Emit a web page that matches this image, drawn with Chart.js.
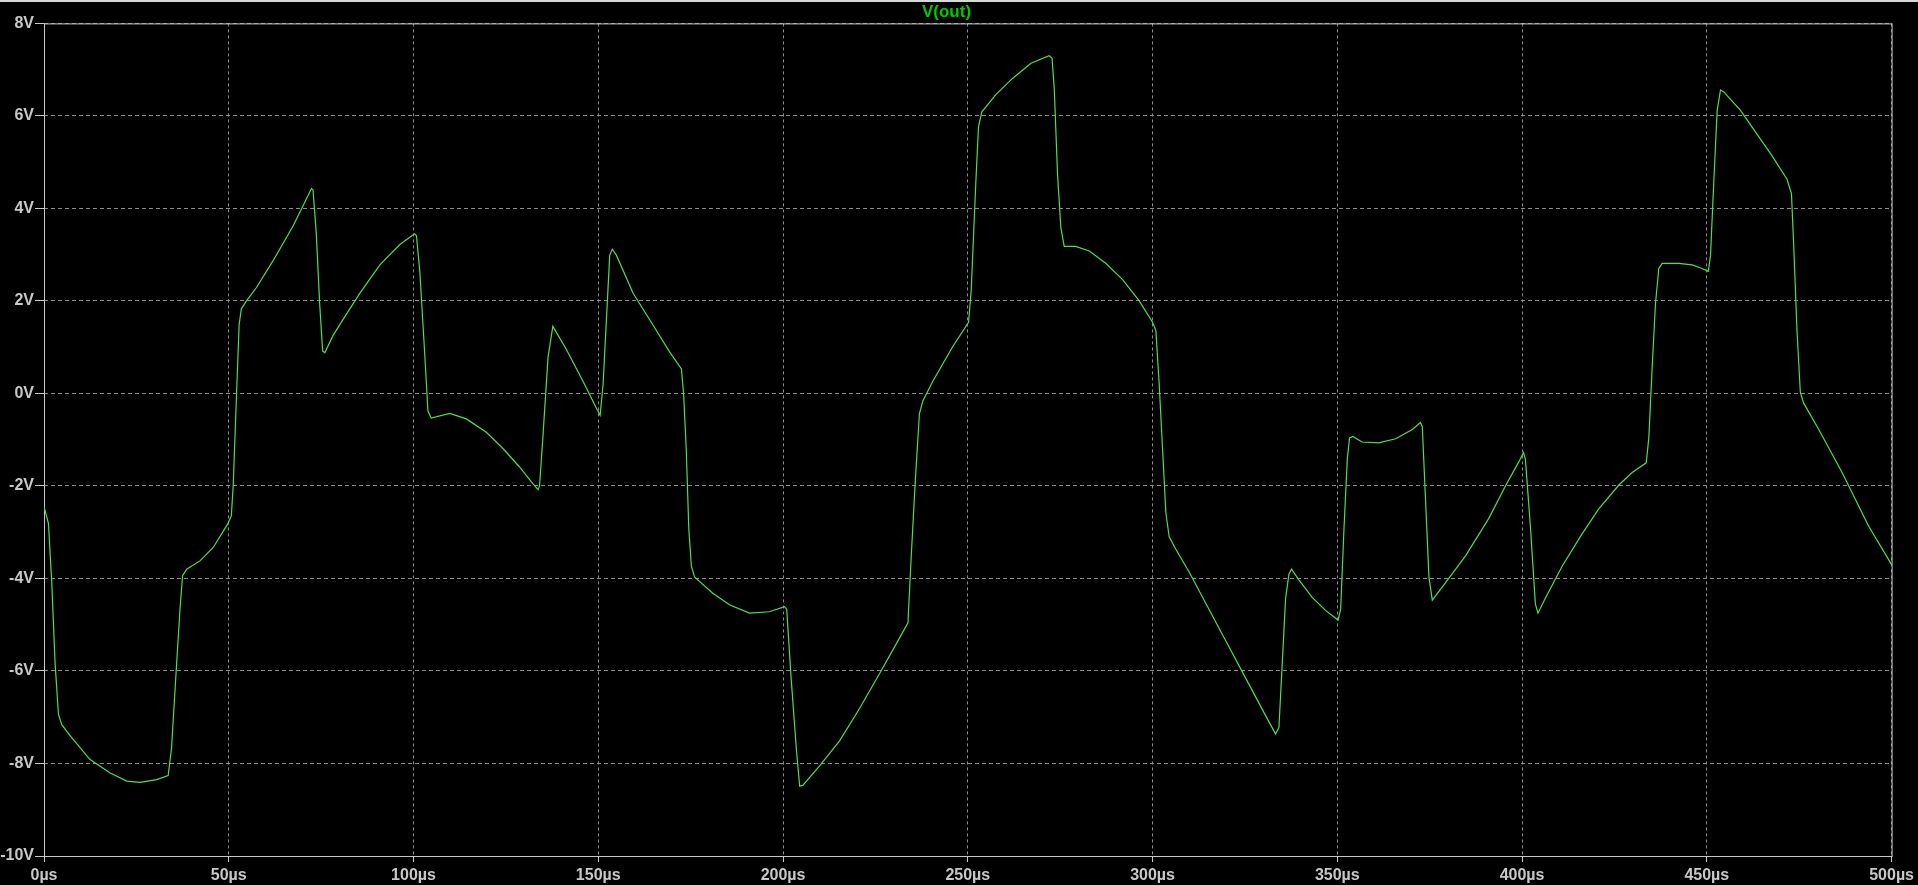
<!DOCTYPE html>
<html>
<head>
<meta charset="utf-8">
<title>V(out)</title>
<script src="https://cdn.jsdelivr.net/npm/chart.js@4/dist/chart.umd.min.js"></script>
<style>
    html, body { margin: 0; padding: 0; background: #000; overflow: hidden; }
    #wrap { position: relative; width: 1918px; height: 885px; }
    #topBar { position: absolute; left: 0; top: 0; width: 1918px; height: 2px; background: #d8d8d8; }
</style>
</head>
<body>
<div id="wrap">
    <canvas id="voutChart" width="1918" height="885"></canvas>
    <div id="topBar"></div>
</div>
<script>
// transient sim values (time in µs, voltage in V)
const timeUs = [
    0, 1.2, 2.1, 3.0, 3.9, 4.8, 7.0, 12.4, 17.8, 22.4, 26.0, 30.5, 33.6, 34.5, 35.9, 36.8, 37.5, 38.6,
    42.2, 45.8, 49.8, 50.7, 51.2, 52.1, 52.8, 53.4, 54.8, 57.5, 62.0, 67.4, 72.4, 72.8, 73.7, 74.6,
    75.4, 76.0, 78.2, 81.8, 85.5, 90.9, 96.3, 100.3, 100.8, 101.7, 103.0, 103.9, 104.8, 109.8, 114.3,
    119.7, 124.2, 128.7, 131.9, 133.7, 134.1, 135.0, 136.4, 137.7, 141.3, 145.9, 149.5, 150.5, 151.3,
    152.2, 153.1, 153.8, 154.9, 159.4, 164.8, 169.3, 172.5, 173.1, 173.8, 174.5, 175.2, 176.1, 181.0,
    185.5, 190.9, 196.3, 200.4, 201.0, 202.2, 203.6, 204.5, 205.4, 209.9, 215.3, 220.7, 226.1, 230.6,
    233.8, 234.7, 235.8, 236.9, 237.8, 240.5, 245.9, 250.2, 250.9, 251.5, 252.2, 252.9, 253.8, 257.6,
    262.1, 267.1, 272.0, 272.8, 273.4, 274.3, 275.2, 276.1, 279.2, 282.9, 287.4, 291.9, 296.4, 300.0,
    300.9, 301.8, 302.7, 303.6, 304.5, 306.3, 309.9, 315.3, 320.7, 326.1, 331.5, 333.3, 334.2, 335.1,
    336.0, 336.9, 337.6, 339.6, 343.2, 346.8, 350.2, 350.9, 351.8, 352.7, 353.3, 354.2, 356.7, 361.2,
    365.8, 370.3, 372.5, 373.0, 373.9, 374.8, 375.7, 379.3, 384.7, 391.0, 395.5, 399.1, 400.4, 400.9,
    402.3, 403.6, 404.3, 406.3, 410.8, 416.2, 420.7, 426.2, 429.8, 433.6, 434.3, 435.2, 436.1, 437.0,
    437.9, 442.4, 446.0, 448.7, 450.4, 451.0, 451.9, 452.8, 453.7, 454.6, 459.1, 463.2, 467.7, 471.7,
    472.9, 473.5, 474.4, 475.3, 476.2, 480.3, 486.6, 493.8, 500
];
const vOut = [
    -2.45, -2.81, -4.09, -5.83, -6.93, -7.16, -7.39, -7.91, -8.20, -8.38, -8.41, -8.35, -8.26, -7.68, -5.83, -4.67, -3.94, -3.80,
    -3.62, -3.33, -2.81, -2.64, -2.0, -0.03, 1.48, 1.83, 2.0, 2.29, 2.87, 3.62, 4.43, 4.40, 3.45, 1.94,
    0.92, 0.88, 1.25, 1.71, 2.17, 2.78, 3.22, 3.45, 3.41, 2.64, 0.90, -0.38, -0.53, -0.43, -0.55,
    -0.84, -1.19, -1.59, -1.91, -2.08, -2.0, -0.96, 0.78, 1.45, 0.96, 0.26, -0.32, -0.47, 0.20,
    1.59, 2.99, 3.12, 2.99, 2.17, 1.48, 0.90, 0.53, -0.03, -1.19, -2.93, -3.74, -3.97, -4.32,
    -4.57, -4.75, -4.72, -4.61, -4.67, -6.17, -7.68, -8.49, -8.47, -8.05, -7.51, -6.81, -6.06, -5.42,
    -4.96, -3.51, -1.88, -0.44, -0.17, 0.26, 1.01, 1.54, 2.2, 3.3, 4.61, 5.77, 6.09, 6.46,
    6.81, 7.14, 7.30, 7.25, 6.58, 4.72, 3.57, 3.18, 3.18, 3.08, 2.81, 2.46, 2.0, 1.54,
    1.36, 0.20, -1.19, -2.58, -3.10, -3.37, -3.86, -4.67, -5.48, -6.29, -7.10, -7.36, -7.22, -5.83,
    -4.43, -3.91, -3.80, -4.03, -4.41, -4.69, -4.90, -4.67, -2.93, -1.42, -0.96, -0.93, -1.05, -1.07,
    -0.98, -0.78, -0.63, -0.72, -2.35, -3.97, -4.47, -4.09, -3.51, -2.70, -2.0, -1.48, -1.28, -1.42,
    -2.93, -4.55, -4.75, -4.43, -3.74, -3.04, -2.5, -1.98, -1.71, -1.50, -0.96, 0.55, 1.94, 2.70,
    2.81, 2.81, 2.78, 2.70, 2.64, 2.99, 4.61, 6.12, 6.56, 6.52, 6.12, 5.65, 5.13, 4.63,
    4.32, 3.22, 1.36, 0.03, -0.21, -0.78, -1.71, -2.87, -3.70
];

// axis ranges and tick steps
const xRange = [0, 500];
const xStep = 50;
const yRange = [-10, 8];
const yStep = 2;

const traceName = 'V(out)';

const labelColor = '#c8c8c8';
const gridColor = '#8c8c8c';
const labelFont = { family: 'Liberation Sans, Arial, sans-serif', size: 16, weight: 'bold' };

// solid frame around the plot area, like the LTspice window
const frameBox = {
    id: 'frameBox',
    beforeDatasetsDraw(chart) {
        const { ctx, chartArea } = chart;
        ctx.save();
        ctx.strokeStyle = labelColor;
        ctx.lineWidth = 1;
        ctx.setLineDash([]);
        ctx.strokeRect(chartArea.left + 0.5, chartArea.top + 0.5,
            chartArea.right - chartArea.left, chartArea.bottom - chartArea.top);
        ctx.restore();
    }
};

document.addEventListener('DOMContentLoaded', function () {
    const ctx = document.getElementById('voutChart').getContext('2d');

    const points = timeUs.map((t, i) => ({ x: t, y: vOut[i] }));

    const voutChart = new Chart(ctx, {
        type: 'scatter',
        data: {
            datasets: [{
                label: traceName,
                data: points,
                showLine: true,
                borderColor: 'rgb(80, 222, 80)',
                borderWidth: 1.2,
                pointRadius: 0,
                tension: 0
            }]
        },
        options: {
            responsive: false,
            animation: false,
            layout: { padding: { left: 0, right: 25, top: 0, bottom: 0 } },
            plugins: {
                legend: { display: false },
                tooltip: { enabled: false },
                title: {
                    display: true,
                    text: traceName,
                    color: 'rgb(0, 200, 0)',
                    font: { family: 'Liberation Sans, Arial, sans-serif', size: 17, weight: 'bold' },
                    padding: { top: 2, bottom: 1 }
                }
            },
            scales: {
                x: {
                    type: 'linear',
                    min: xRange[0],
                    max: xRange[1],
                    afterFit: scale => { scale.height = 29; },
                    border: { display: false, dash: [3, 3] },
                    grid: {
                        color: gridColor,
                        tickColor: labelColor,
                        tickLength: 6,
                        tickBorderDash: []
                    },
                    ticks: {
                        stepSize: xStep,
                        autoSkip: false,
                        maxRotation: 0,
                        padding: 4,
                        color: labelColor,
                        font: labelFont,
                        callback: value => value + 'µs'
                    }
                },
                y: {
                    min: yRange[0],
                    max: yRange[1],
                    afterFit: scale => { scale.width = 44; },
                    border: { display: false, dash: [4, 3] },
                    grid: {
                        color: gridColor,
                        tickColor: labelColor,
                        tickLength: 9,
                        tickBorderDash: []
                    },
                    ticks: {
                        stepSize: yStep,
                        padding: 1,
                        color: labelColor,
                        font: labelFont,
                        callback: value => value + 'V'
                    }
                }
            }
        },
        plugins: [frameBox]
    });
});
</script>
</body>
</html>
